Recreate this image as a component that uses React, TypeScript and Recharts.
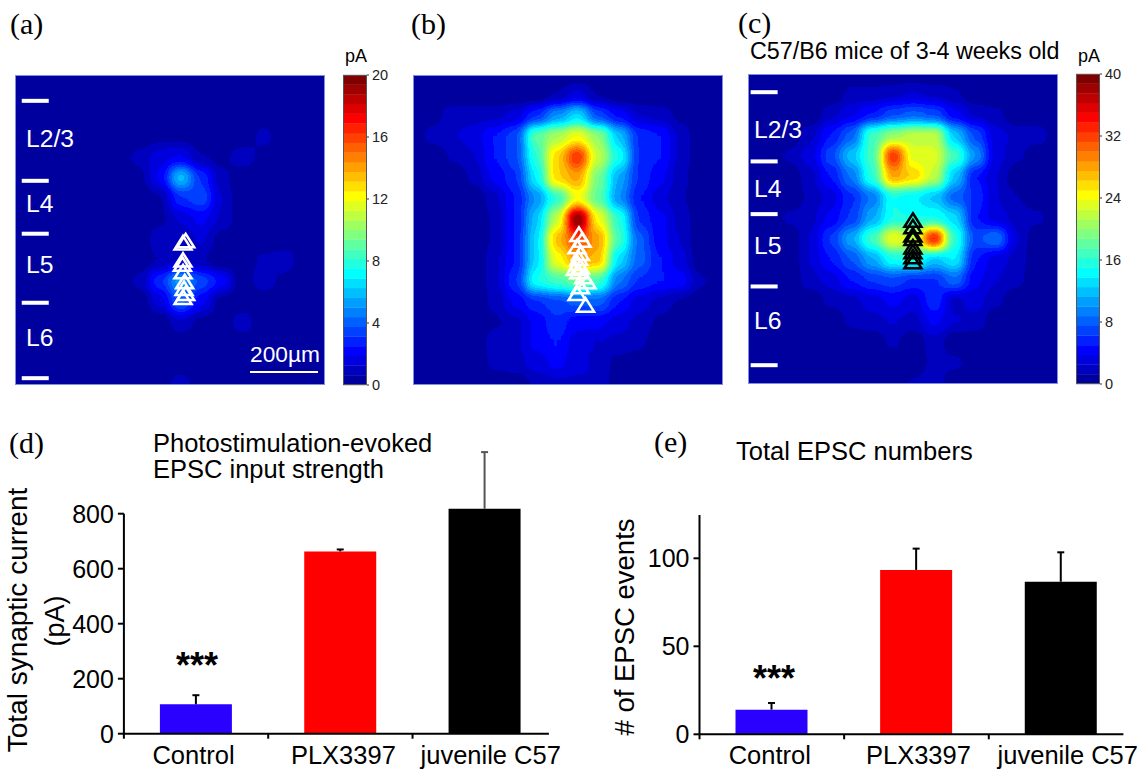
import { BarChart, Bar, Cell, XAxis, YAxis, ReferenceLine, ScatterChart, Scatter } from 'recharts';

const FONT = '"Liberation Sans", Arial, sans-serif';
const SERIF = '"Liberation Serif", "Times New Roman", serif';

// mapped input per stimulation site, 16 x 16, pA
const controlMap = [
  [0, 0, 0, 0, 0, 0, 0, 0, 0, 0, 0, 0, 0, 0, 0, 0],
  [0, 0, 0, 0, 0, 0, 0, 0, 0, 0, 0, 0, 0, 0, 0, 0],
  [0, 0, 0, 0, 0, 0, 0, 0, 0, 0, 0, 0, 0, 0, 0, 0],
  [0, 0, 0, 0, 0, 0, 0, 0.3, 0.3, 0, 0, 0, 0.9, 0, 0, 0],
  [0, 0, 0, 0, 0, 0, 0.9, 1.6, 1.9, 0.6, 0.3, 1.1, 0.3, 0, 0, 0],
  [0, 0, 0, 0, 0, 0, 0.3, 2, 6, 3, 0.8, 0, 0, 0, 0, 0],
  [0, 0, 0, 0, 0, 0, 0, 0.5, 3, 3.6, 1.2, 0, 0, 0, 0, 0],
  [0, 0, 0, 0, 0, 0, 0, 0.4, 1.3, 2, 1.1, 0, 0, 0, 0, 0],
  [0, 0, 0, 0, 0, 0, 0, 1.1, 0.7, 1.3, 0.2, 0, 0, 0, 0, 0],
  [0, 0, 0, 0, 0, 0, 0, 0.6, 1.2, 0.6, 0, 0, 0.8, 1.1, 0, 0],
  [0, 0, 0, 0, 0, 0, 0.8, 3, 5.5, 3.5, 2.3, 0, 1.1, 0.3, 0, 0],
  [0, 0, 0, 0, 0, 0, 0, 1.5, 4, 2, 0.2, 0, 0, 0, 0, 0],
  [0, 0, 0, 0, 0, 0, 0, 0, 1.1, 0.3, 0, 1.1, 0, 0, 0, 0],
  [0, 0, 0, 0, 0, 0, 0, 0, 0, 0, 0, 0, 0, 0, 0, 0],
  [0, 0, 0, 0, 0, 0, 0, 0, 0, 0, 0, 0, 0, 0, 0, 0],
  [0, 0, 0, 0, 0, 0, 0, 0, 1.1, 0, 0, 0, 0, 0, 0, 0],
];

const plxMap = [
  [0, 0, 0, 0, 0, 0, 0, 0, 0, 0, 0, 0, 0, 0, 0, 0],
  [0, 0, 0, 0, 0, 0, 0, 0.6, 1.5, 0.5, 0, 0, 0, 0, 0, 0],
  [0, 0.3, 1, 1, 1, 1.5, 3, 5, 6.5, 3.5, 2.3, 1.2, 1, 0.4, 0, 0],
  [0, 0.9, 1.2, 1.5, 2.5, 3.5, 9, 10.5, 12, 10, 6, 3, 2.5, 1, 0, 0],
  [0, 0, 0.7, 1.2, 2.5, 3.5, 8, 13, 16.5, 11, 7.5, 3, 2.5, 1, 0, 0],
  [0, 0, 0, 0.8, 2, 3, 7, 13, 14, 9.5, 5.5, 3, 2, 0.8, 0, 0],
  [0, 0, 0, 0, 1, 2.5, 5, 8, 12, 9, 5, 2.5, 1.5, 0.7, 0, 0],
  [0, 0, 0, 0, 0.7, 2.5, 6, 11, 20, 12, 8, 3, 2, 1, 0, 0],
  [0, 0, 0, 0, 0.7, 2.5, 6.5, 13.5, 16, 14, 8.5, 4, 2, 1.2, 0, 0],
  [0, 0, 0, 0, 1, 2.5, 6.5, 12, 14, 13.5, 6.5, 4, 2.5, 1.5, 0, 0],
  [0, 0, 0, 0, 1, 3, 7.5, 8.5, 9.5, 8.5, 4.5, 3, 2.5, 2.2, 0.7, 0],
  [0, 0, 0, 0, 0.8, 2, 3, 3.5, 4, 4, 2.5, 1.5, 1, 0.5, 0, 0],
  [0, 0, 0, 0, 0.5, 1, 2, 3, 2, 2, 1.5, 1, 0.4, 0, 0, 0],
  [0, 0, 0, 0, 1, 1, 2, 2.5, 1.5, 1.2, 1, 0.8, 0, 0, 0, 0],
  [0, 0, 0, 0, 0.8, 1, 1.5, 2, 1.5, 1, 0.3, 0, 0, 0, 0, 0],
  [0, 0, 0, 0, 0, 0, 0.7, 1, 1, 1.2, 0, 0, 0, 0, 0, 0],
];

const juvenileMap = [
  [0, 0, 0, 0, 0, 0, 0, 0, 0, 0, 0, 0, 0, 0, 0, 0],
  [0, 0, 0, 0, 0, 1.5, 1.6, 2, 2.5, 2, 1.4, 0, 0, 0, 0, 0],
  [0, 0, 0, 0, 2, 3.5, 5, 7, 8, 7, 4, 2.2, 1.6, 0, 0, 0],
  [0, 0, 0, 2, 5, 8, 17, 20, 22, 22, 12, 7, 3, 2, 2, 0],
  [0, 0, 1.6, 3, 7, 12, 17, 33, 23, 23, 17, 10, 3, 1.5, 0, 0],
  [0, 0, 0, 2, 5, 9, 16, 28, 26, 22, 12, 5, 2.5, 0, 0, 0],
  [0, 0, 0, 1.5, 3, 6, 9, 15, 14, 12, 8, 6, 2.5, 1.3, 0, 0],
  [0, 0, 1.5, 2, 4, 6.5, 11, 15, 15, 15, 13, 5, 3, 2, 1.5, 0],
  [0, 0, 0, 2.5, 6.5, 11, 17, 24, 22, 34, 16, 7, 9, 2.5, 0, 0],
  [0, 0, 0, 2.5, 5, 7.5, 11, 15, 16, 12, 14, 5, 3, 2, 0, 0],
  [0, 0, 0, 2, 3, 5, 6.5, 7, 6, 6, 8.5, 4, 2.5, 1.5, 0, 0],
  [0, 0, 0, 0, 1.5, 2, 3, 4, 3, 6, 2, 3, 1.6, 0, 0, 0],
  [0, 0, 0, 0, 0, 1.5, 2, 2.5, 2, 4, 2.5, 2, 0, 0, 0, 0],
  [0, 0, 0, 0, 0, 0, 0, 1.5, 0, 2, 0, 0, 0, 0, 0, 0],
  [0, 0, 0, 0, 0, 0, 0, 0, 0, 1.8, 1.5, 0, 0, 0, 0, 0],
  [0, 0, 0, 0, 0, 0, 0, 0, 1.4, 2, 0, 0, 0, 0, 0, 0],
];

// recorded cells, in site units
const controlCells = [[8.26, 8.05], [8.13, 8.15], [8.13, 8.98], [8.1, 9.18], [8.13, 9.55], [8.21, 10.03], [8.18, 10.35], [8.26, 10.6], [8.13, 10.79]];
const plxCells = [[8.03, 7.74], [8.18, 8.02], [7.94, 8.34], [8.1, 8.66], [8.02, 8.9], [7.98, 9.15], [8.1, 9.31], [7.85, 9.39], [8.02, 9.55], [8.26, 9.79], [8.42, 10.03], [8.1, 10.27], [7.94, 10.6], [8.35, 11.16]];
const juvenileCells = [[7.98, 7.1], [7.98, 7.42], [7.98, 7.82], [7.98, 7.98], [7.98, 8.39], [7.98, 8.63], [7.98, 8.87], [7.98, 9.11]];

const controlLayers = [1.25, 5.12, 7.68, 11.02, 14.67];
const juvenileLayers = [0.88, 4.23, 6.78, 10.28, 14.09];

const groups = ['Control', 'PLX3397', 'juvenile C57'];
const groupColors = ['#2a00ff', '#ff0000', '#000000'];
const strengthValues = [107, 663, 818];
const strengthErrors = [33, 7, 206];
const eventValues = [14, 93.4, 86.7];
const eventErrors = [3.8, 12.1, 16.7];
const strengthTicks = [0, 200, 400, 600, 800];
const eventTicks = [0, 50, 100];

// matlab jet(32)
const jetR = [0, 0, 0, 0, 0, 0, 0, 0, 0, 0, 0, 0, 0.125, 0.25, 0.375, 0.5, 0.625, 0.75, 0.875, 1, 1, 1, 1, 1, 1, 1, 1, 1, 0.875, 0.75, 0.625, 0.5];
const jetG = [0, 0, 0, 0, 0.125, 0.25, 0.375, 0.5, 0.625, 0.75, 0.875, 1, 1, 1, 1, 1, 1, 1, 1, 1, 0.875, 0.75, 0.625, 0.5, 0.375, 0.25, 0.125, 0, 0, 0, 0, 0];
const jetB = [0.625, 0.75, 0.875, 1, 1, 1, 1, 1, 1, 1, 1, 1, 0.875, 0.75, 0.625, 0.5, 0.375, 0.25, 0.125, 0, 0, 0, 0, 0, 0, 0, 0, 0, 0, 0, 0, 0];

const toRows = (cats: string[], vals: number[], errs: number[]) =>
  cats.map((name, i) => ({ name, value: vals[i], err: errs[i] }));

function Txt({ x, y, size, children, color = '#000', family = FONT, align = 'center', rotate = 0, weight = 400 }: any) {
  const tx = align === 'left' ? '0' : '-50%';
  return (
    <div
      style={{
        position: 'absolute',
        left: x,
        top: y,
        fontSize: size,
        color,
        fontFamily: family,
        fontWeight: weight,
        lineHeight: 1,
        whiteSpace: 'nowrap',
        transform: `translate(${tx}, -50%) rotate(${rotate}deg)`,
      }}
    >
      {children}
    </div>
  );
}

function Heatmap({ left, top, matrix, max }: { left: number; top: number; matrix: number[][]; max: number }) {
  const sites = matrix.flatMap((row, j) =>
    row.map((v, i) => ({ i, j, gray: Math.min(255, Math.round((v / max) * 255)) })),
  );
  return (
    <div style={{ position: 'absolute', left, top, width: 310, height: 310, overflow: 'hidden', background: '#00009f' }}>
      <div style={{ position: 'absolute', left: -10.5, top: -10.5, width: 331, height: 331, filter: 'url(#jetMap)' }}>
        <ScatterChart width={331} height={331} margin={{ top: 0, right: 0, bottom: 0, left: 0 }}>
          <XAxis type="number" dataKey="i" domain={[-0.5, 15.5]} hide />
          <YAxis type="number" dataKey="j" domain={[-0.5, 15.5]} reversed hide />
          <Scatter
            data={sites}
            isAnimationActive={false}
            shape={(p: any) => (
              <rect
                x={p.cx - 10.6}
                y={p.cy - 10.6}
                width={21.2}
                height={21.2}
                fill={`rgb(${p.payload.gray},${p.payload.gray},${p.payload.gray})`}
              />
            )}
          />
        </ScatterChart>
      </div>
      <div style={{ position: 'absolute', inset: 0, boxSizing: 'border-box', border: '1px solid #7f8fe0' }} />
    </div>
  );
}

function Overlay({ left, top, cells, layers, layerX, color, strokeWidth }: any) {
  const cellRows = cells.map(([x, y]: number[]) => ({ x, y }));
  const layerRows = (layers || []).map((y: number) => ({ x: layerX, y }));
  return (
    <div style={{ position: 'absolute', left, top }}>
      <ScatterChart width={310} height={310} margin={{ top: 0, right: 0, bottom: 0, left: 0 }}>
        <XAxis type="number" dataKey="x" domain={[0, 15]} hide />
        <YAxis type="number" dataKey="y" domain={[0, 15]} reversed hide />
        <Scatter
          data={layerRows}
          isAnimationActive={false}
          shape={(p: any) => <rect x={p.cx - 13.5} y={p.cy - 2} width={27} height={4} fill="#fff" />}
        />
        <Scatter
          data={cellRows}
          isAnimationActive={false}
          shape={(p: any) => (
            <path
              d={`M${p.cx} ${p.cy - 7.5}L${p.cx + 8.5} ${p.cy + 6}L${p.cx - 8.5} ${p.cy + 6}Z`}
              fill="none"
              stroke={color}
              strokeWidth={strokeWidth}
            />
          )}
        />
      </ScatterChart>
    </div>
  );
}

function ColorBar({ left, top, max, ticks }: { left: number; top: number; max: number; ticks: number[] }) {
  const bands = jetR.map((r, k) => ({
    x: 0.5,
    y: ((k + 0.5) / jetR.length) * max,
    fill: `rgb(${r * 255},${jetG[k] * 255},${jetB[k] * 255})`,
  }));
  return (
    <div style={{ position: 'absolute', left, top: top - 10 }}>
      <ScatterChart width={62} height={330} margin={{ top: 10, right: 0, bottom: 10, left: 0 }}>
        <XAxis type="number" dataKey="x" domain={[0, 1]} hide />
        <YAxis
          type="number"
          dataKey="y"
          orientation="right"
          width={38}
          domain={[0, max]}
          ticks={ticks}
          interval={0}
          axisLine={false}
          tickSize={2}
          tickMargin={3}
          tickLine={{ stroke: '#333' }}
          tick={{ fontSize: 14.5, fill: '#222', fontFamily: FONT }}
        />
        <Scatter
          data={bands}
          isAnimationActive={false}
          shape={(p: any) => <rect x={p.cx - 12} y={p.cy - 5} width={24} height={10} fill={p.payload.fill} />}
        />
      </ScatterChart>
      <div style={{ position: 'absolute', left: 0, top: 10, width: 24, height: 310, boxSizing: 'border-box', border: '1px solid #555' }} />
    </div>
  );
}

function GroupTick({ x, y, payload, index, band, shifts }: any) {
  return (
    <g>
      <line x1={x - band / 2} x2={x - band / 2} y1={y - 6} y2={y - 1} stroke="#000" strokeWidth={2} />
      <text x={x + shifts[index]} y={y + 24} textAnchor="middle" fontSize={25.5} fontFamily={FONT} fill="#000">
        {payload.value}
      </text>
    </g>
  );
}

// upper whisker only, stacked on the bar so it starts at the bar top
function Whisker({ x, y, width, height, index, colors }: any) {
  const cx = x + width / 2;
  return (
    <g stroke={colors[index]} strokeWidth={2}>
      <line x1={cx} x2={cx} y1={y} y2={y + height} />
      <line x1={cx - 3.5} x2={cx + 3.5} y1={y} y2={y} />
    </g>
  );
}

export default function App() {
  const strengthRows = toRows(groups, strengthValues, strengthErrors);
  const eventRows = toRows(groups, eventValues, eventErrors);
  return (
    <div style={{ position: 'absolute', left: 0, top: 0, width: 1138, height: 769, background: '#fff', overflow: 'hidden', fontFamily: FONT }}>
      <svg width={0} height={0} style={{ position: 'absolute' }}>
        <defs>
          <filter id="jetMap" colorInterpolationFilters="sRGB" x="-5%" y="-5%" width="110%" height="110%">
            <feGaussianBlur colorInterpolationFilters="sRGB" stdDeviation={5.5} />
            <feComponentTransfer colorInterpolationFilters="sRGB">
              <feFuncR type="discrete" tableValues={jetR.join(' ')} />
              <feFuncG type="discrete" tableValues={jetG.join(' ')} />
              <feFuncB type="discrete" tableValues={jetB.join(' ')} />
            </feComponentTransfer>
          </filter>
        </defs>
      </svg>

      <Txt x={10} y={24} size={30} family={SERIF} align="left">(a)</Txt>
      <Txt x={411} y={24} size={30} family={SERIF} align="left">(b)</Txt>
      <Txt x={738} y={23} size={30} family={SERIF} align="left">(c)</Txt>
      <Txt x={9} y={443} size={30} family={SERIF} align="left">(d)</Txt>
      <Txt x={654} y={442} size={30} family={SERIF} align="left">(e)</Txt>

      <Heatmap left={15.3} top={74.5} matrix={controlMap} max={20} />
      <Heatmap left={412.7} top={74.5} matrix={plxMap} max={20} />
      <Heatmap left={748.3} top={73.5} matrix={juvenileMap} max={40} />

      <Overlay left={15.3} top={74.5} cells={controlCells} layers={controlLayers} layerX={0.98} color="#fff" strokeWidth={2.5} />
      <Overlay left={412.7} top={74.5} cells={plxCells} color="#fff" strokeWidth={2.5} />
      <Overlay left={748.3} top={73.5} cells={juvenileCells} layers={juvenileLayers} layerX={0.78} color="#000" strokeWidth={2.5} />

      <ColorBar left={343} top={74.5} max={20} ticks={[0, 4, 8, 12, 16, 20]} />
      <ColorBar left={1076} top={73.5} max={40} ticks={[0, 8, 16, 24, 32, 40]} />
      <Txt x={356} y={56} size={18}>pA</Txt>
      <Txt x={1089} y={56} size={18}>pA</Txt>
      <Txt x={750} y={52} size={23.3} align="left">C57/B6 mice of 3-4 weeks old</Txt>

      <Txt x={26} y={139} size={24.7} color="#fff" align="left">L2/3</Txt>
      <Txt x={26} y={204} size={24.7} color="#fff" align="left">L4</Txt>
      <Txt x={26} y={265} size={24.7} color="#fff" align="left">L5</Txt>
      <Txt x={26} y={338} size={24.7} color="#fff" align="left">L6</Txt>
      <Txt x={754} y={130} size={24.7} color="#fff" align="left">L2/3</Txt>
      <Txt x={754} y={189} size={24.7} color="#fff" align="left">L4</Txt>
      <Txt x={754} y={246} size={24.7} color="#fff" align="left">L5</Txt>
      <Txt x={754} y={321} size={24.7} color="#fff" align="left">L6</Txt>
      <Txt x={285} y={354} size={22.7} color="#fff">200µm</Txt>
      <div style={{ position: 'absolute', left: 250, top: 371, width: 68, height: 2, background: '#fff' }} />

      <Txt x={153} y={444} size={25.5} align="left">Photostimulation-evoked</Txt>
      <Txt x={153} y={470} size={25.5} align="left">EPSC input strength</Txt>
      <Txt x={18} y={620} size={28} rotate={-90}>Total synaptic current</Txt>
      <Txt x={55} y={621} size={27} rotate={-90}>(pA)</Txt>
      <Txt x={197} y={666} size={36} weight={700}>***</Txt>

      <div style={{ position: 'absolute', left: 0, top: 420 }}>
        <BarChart width={570} height={349} data={strengthRows} barSize={72} margin={{ top: 27.7, right: 21.1, bottom: 0.3, left: 83.9 }}>
          <XAxis
            dataKey="name"
            height={35}
            interval={0}
            padding={{ left: 0, right: -8 }}
            axisLine={{ stroke: '#000', strokeWidth: 2 }}
            tickLine={false}
            tickMargin={0}
            tick={<GroupTick band={144.4} shifts={[-2.5, 3, 6]} />}
          />
          <YAxis
            width={40}
            domain={[0, 1040]}
            ticks={strengthTicks}
            interval={0}
            axisLine={false}
            tickSize={6}
            tickMargin={4}
            tickLine={{ stroke: '#000', strokeWidth: 2 }}
            tick={{ fontSize: 25, fill: '#000', fontFamily: FONT }}
          />
          <ReferenceLine
            position="start"
            segment={[{ x: groups[0], y: 0 }, { x: groups[0], y: 800 }]}
            stroke="#000"
            strokeWidth={2}
          />
          <Bar dataKey="value" stackId="s" isAnimationActive={false}>
            {groups.map((g, i) => (
              <Cell key={g} fill={groupColors[i]} />
            ))}
          </Bar>
          <Bar dataKey="err" stackId="s" isAnimationActive={false} shape={<Whisker colors={['#000', '#000', '#555']} />} />
        </BarChart>
      </div>

      <Txt x={736} y={452} size={25.5} align="left">Total EPSC numbers</Txt>
      <Txt x={625} y={627} size={27.5} rotate={-90}># of EPSC events</Txt>
      <Txt x={774} y={679} size={36} weight={700}>***</Txt>

      <div style={{ position: 'absolute', left: 570, top: 420 }}>
        <BarChart width={568} height={349} data={eventRows} barSize={72} margin={{ top: 95, right: 14.6, bottom: 0.7, left: 89.5 }}>
          <XAxis
            dataKey="name"
            height={34}
            interval={0}
            padding={{ left: 0, right: -10 }}
            axisLine={{ stroke: '#000', strokeWidth: 2 }}
            tickLine={false}
            tickMargin={0}
            tick={<GroupTick band={144.6} shifts={[-2, 2, 6.7]} />}
          />
          <YAxis
            width={40}
            domain={[0, 124.6]}
            ticks={eventTicks}
            interval={0}
            axisLine={{ stroke: '#000', strokeWidth: 2 }}
            tickSize={6}
            tickMargin={4}
            tickLine={{ stroke: '#000', strokeWidth: 2 }}
            tick={{ fontSize: 25, fill: '#000', fontFamily: FONT }}
          />
          <Bar dataKey="value" stackId="s" isAnimationActive={false}>
            {groups.map((g, i) => (
              <Cell key={g} fill={groupColors[i]} />
            ))}
          </Bar>
          <Bar dataKey="err" stackId="s" isAnimationActive={false} shape={<Whisker colors={['#000', '#000', '#000']} />} />
        </BarChart>
      </div>
    </div>
  );
}
